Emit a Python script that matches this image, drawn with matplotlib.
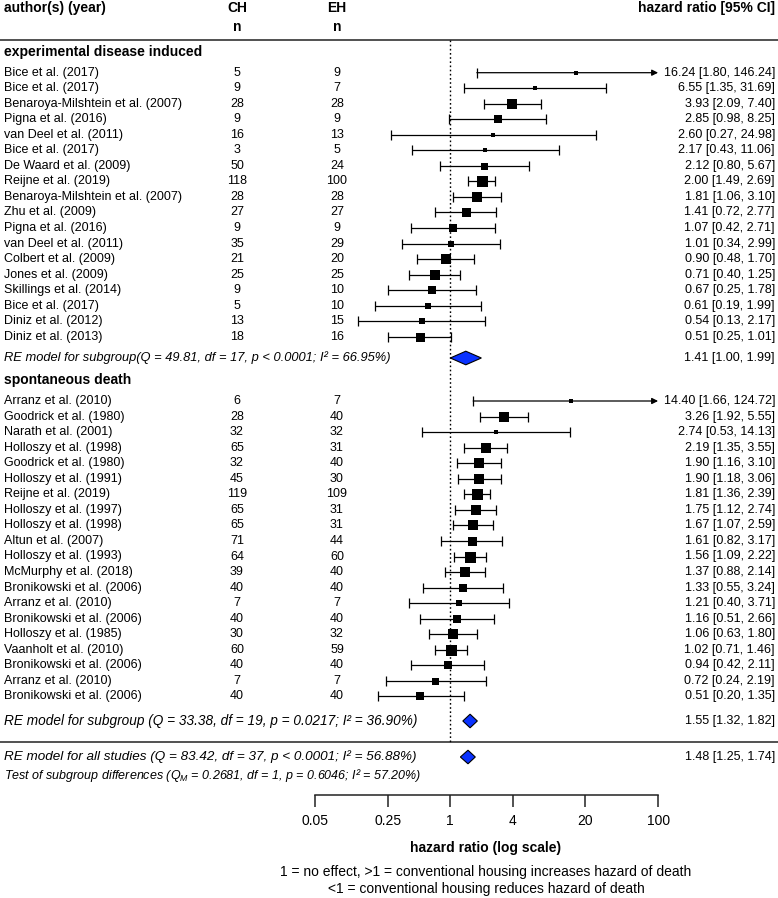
import numpy as np
import matplotlib
matplotlib.use("Agg")
import matplotlib.pyplot as plt

plt.rcParams["font.family"] = ["Liberation Sans", "DejaVu Sans"]
plt.rcParams["mathtext.fontset"] = "custom"
plt.rcParams["mathtext.rm"] = "Liberation Sans"
plt.rcParams["mathtext.it"] = "Liberation Sans:italic"

# experimental disease induced
g1_labels = ["Bice et al. (2017)", "Bice et al. (2017)", "Benaroya-Milshtein et al. (2007)",
             "Pigna et al. (2016)", "van Deel et al. (2011)", "Bice et al. (2017)",
             "De Waard et al. (2009)", "Reijne et al. (2019)", "Benaroya-Milshtein et al. (2007)",
             "Zhu et al. (2009)", "Pigna et al. (2016)", "van Deel et al. (2011)",
             "Colbert et al. (2009)", "Jones et al. (2009)", "Skillings et al. (2014)",
             "Bice et al. (2017)", "Diniz et al. (2012)", "Diniz et al. (2013)"]
g1_ch = [5, 9, 28, 9, 16, 3, 50, 118, 28, 27, 9, 35, 21, 25, 9, 5, 13, 18]
g1_eh = [9, 7, 28, 9, 13, 5, 24, 100, 28, 27, 9, 29, 20, 25, 10, 10, 15, 16]
g1_hr = [16.24, 6.55, 3.93, 2.85, 2.60, 2.17, 2.12, 2.00, 1.81, 1.41, 1.07, 1.01,
         0.90, 0.71, 0.67, 0.61, 0.54, 0.51]
g1_lo = [1.80, 1.35, 2.09, 0.98, 0.27, 0.43, 0.80, 1.49, 1.06, 0.72, 0.42, 0.34,
         0.48, 0.40, 0.25, 0.19, 0.13, 0.25]
g1_hi = [146.24, 31.69, 7.40, 8.25, 24.98, 11.06, 5.67, 2.69, 3.10, 2.77, 2.71, 2.99,
         1.70, 1.25, 1.78, 1.99, 2.17, 1.01]
g1_box = [4, 5, 10, 7.5, 4, 5, 7, 11, 10, 9, 8, 6, 10, 10, 7.5, 6.5, 5.5, 9]

# spontaneous death
g2_labels = ["Arranz et al. (2010)", "Goodrick et al. (1980)", "Narath et al. (2001)",
             "Holloszy et al. (1998)", "Goodrick et al. (1980)", "Holloszy et al. (1991)",
             "Reijne et al. (2019)", "Holloszy et al. (1997)", "Holloszy et al. (1998)",
             "Altun et al. (2007)", "Holloszy et al. (1993)", "McMurphy et al. (2018)",
             "Bronikowski et al. (2006)", "Arranz et al. (2010)", "Bronikowski et al. (2006)",
             "Holloszy et al. (1985)", "Vaanholt et al. (2010)", "Bronikowski et al. (2006)",
             "Arranz et al. (2010)", "Bronikowski et al. (2006)"]
g2_ch = [6, 28, 32, 65, 32, 45, 119, 65, 65, 71, 64, 39, 40, 7, 40, 30, 60, 40, 7, 40]
g2_eh = [7, 40, 32, 31, 40, 30, 109, 31, 31, 44, 60, 40, 40, 7, 40, 32, 59, 40, 7, 40]
g2_hr = [14.40, 3.26, 2.74, 2.19, 1.90, 1.90, 1.81, 1.75, 1.67, 1.61, 1.56, 1.37,
         1.33, 1.21, 1.16, 1.06, 1.02, 0.94, 0.72, 0.51]
g2_lo = [1.66, 1.92, 0.53, 1.35, 1.16, 1.18, 1.36, 1.12, 1.07, 0.82, 1.09, 0.88,
         0.55, 0.40, 0.51, 0.63, 0.71, 0.42, 0.24, 0.20]
g2_hi = [124.72, 5.55, 14.13, 3.55, 3.10, 3.06, 2.39, 2.74, 2.59, 3.17, 2.22, 2.14,
         3.24, 3.71, 2.66, 1.80, 1.46, 2.11, 2.19, 1.35]
g2_box = [4, 10, 5, 10, 10, 10, 11, 10, 9.5, 9, 11, 9.5, 7.5, 5.5, 8, 9.5, 11, 8, 7, 7.5]

# pooled estimates: subgroup 1, subgroup 2, all studies
re_hr = [1.41, 1.55, 1.48]
re_lo = [1.00, 1.32, 1.25]
re_hi = [1.99, 1.82, 1.74]
re_labels = ["RE model for subgroup(Q = 49.81, df = 17, p < 0.0001; I\u00b2 = 66.95%)",
             "RE model for subgroup (Q = 33.38, df = 19, p = 0.0217; I\u00b2 = 36.90%)",
             "RE model for all studies (Q = 83.42, df = 37, p < 0.0001; I\u00b2 = 56.88%)"]
test_label = (r"Test of subgroup differences ($Q_M$ = 0.2681, df = 1, p = 0.6046; "
              "I\u00b2 = 57.20%)")

x_ticks = [0.05, 0.25, 1, 4, 20, 100]
tick_labels = ["0.05", "0.25", "1", "4", "20", "100"]

W, H = 778, 898
fig = plt.figure(figsize=(W / 100, H / 100), dpi=100)
ax = fig.add_axes([0, 0, 1, 1])
ax.set_xscale("log")
# pixel layout: x_px = 450.3 + 103.9 * log10(hr)
ax.set_xlim(10 ** (-450.3 / 103.9), 10 ** ((W - 450.3) / 103.9))
ax.set_ylim(H, 0)
ax.patch.set_alpha(0)
for s in ["top", "left", "right"]:
    ax.spines[s].set_visible(False)
ax.set_yticks([])
ax.minorticks_off()

tx = ax.get_yaxis_transform()
fs = 9
x_lab, x_ch, x_eh, x_ann = 4 / W, 237 / W, 337 / W, 775 / W

# header
ax.text(x_lab, 8, "author(s) (year)", transform=tx, fontsize=10, fontweight="bold", va="center")
ax.text(x_ch, 8, "CH", transform=tx, fontsize=10, fontweight="bold", va="center", ha="center")
ax.text(x_eh, 8, "EH", transform=tx, fontsize=10, fontweight="bold", va="center", ha="center")
ax.text(x_ch, 27, "n", transform=tx, fontsize=10, fontweight="bold", va="center", ha="center")
ax.text(x_eh, 27, "n", transform=tx, fontsize=10, fontweight="bold", va="center", ha="center")
ax.text(x_ann, 8, "hazard ratio [95% CI]", transform=tx, fontsize=10, fontweight="bold",
        va="center", ha="right")
ax.axhline(39.5, color="#333333", lw=1.2)
ax.axhline(741.7, color="#333333", lw=1.2)
ax.vlines(1, 40, 741.7, colors="black", lw=1.0, linestyles=(0, (1.2, 1.8)))


def draw_group(y0, step, labels, ch, eh, hr, lo, hi, box):
    for i in range(len(labels)):
        y = y0 + i * step
        ax.text(x_lab, y, labels[i], transform=tx, fontsize=fs, va="center")
        ax.text(x_ch, y, str(ch[i]), transform=tx, fontsize=fs, va="center", ha="center")
        ax.text(x_eh, y, str(eh[i]), transform=tx, fontsize=fs, va="center", ha="center")
        ax.text(x_ann, y, f"{hr[i]:.2f} [{lo[i]:.2f}, {hi[i]:.2f}]", transform=tx,
                fontsize=fs, va="center", ha="right")
        if hi[i] > 100:
            ax.annotate("", xy=(100, y), xytext=(lo[i], y),
                        arrowprops=dict(arrowstyle="-|>", color="black", lw=0.9,
                                        mutation_scale=9, shrinkA=0, shrinkB=0))
            ax.plot([lo[i]], [y], marker="|", ms=6.5, mew=0.9, color="black")
        else:
            ax.hlines(y, lo[i], hi[i], colors="black", lw=0.9)
            ax.plot([lo[i], hi[i]], [y, y], ls="none", marker="|", ms=6.5, mew=0.9,
                    color="black")
        ax.scatter([hr[i]], [y], marker="s", s=(box[i] * 0.72) ** 2, color="black",
                   lw=0, zorder=3)


ax.text(x_lab, 51.7, "experimental disease induced", transform=tx, fontsize=10,
        fontweight="bold", va="center")
draw_group(72.7, 15.53, g1_labels, g1_ch, g1_eh, g1_hr, g1_lo, g1_hi, g1_box)
ax.text(x_lab, 380, "spontaneous death", transform=tx, fontsize=10,
        fontweight="bold", va="center")
draw_group(401, 15.55, g2_labels, g2_ch, g2_eh, g2_hr, g2_lo, g2_hi, g2_box)

re_y = [358, 721, 757]
re_fs = [9.3, 9.8, 9.7]
for i in range(3):
    y = re_y[i]
    h = 6.8
    ax.fill([re_lo[i], re_hr[i], re_hi[i], re_hr[i]], [y, y - h, y, y + h],
            facecolor="#0a32ff", edgecolor="black", lw=0.8, zorder=3)
    ax.text(x_lab, y, re_labels[i], transform=tx, fontsize=re_fs[i], va="center",
            style="italic")
    ax.text(x_ann, y, f"{re_hr[i]:.2f} [{re_lo[i]:.2f}, {re_hi[i]:.2f}]", transform=tx,
            fontsize=fs, va="center", ha="right")
ax.text(x_lab, 775, test_label, transform=tx, fontsize=fs, va="center", style="italic")

# bottom axis
ax.spines["bottom"].set_position(("data", 795))
ax.spines["bottom"].set_bounds(0.05, 100)
ax.spines["bottom"].set_linewidth(1.1)
ax.spines["bottom"].set_color("#222222")
ax.set_xticks(x_ticks)
ax.set_xticklabels(tick_labels)
ax.tick_params(axis="x", which="major", direction="out", length=8.5, width=1.1,
               color="#222222", labelsize=10, pad=5)
ax.tick_params(axis="x", which="minor", length=0)

ax.text(486 / W, 848, "hazard ratio (log scale)", transform=tx, fontsize=10,
        fontweight="bold", va="center", ha="center")
ax.text(486 / W, 872, "1 = no effect, >1 = conventional housing increases hazard of death",
        transform=tx, fontsize=10, va="center", ha="center")
ax.text(486 / W, 889, "<1 = conventional housing reduces hazard of death",
        transform=tx, fontsize=10, va="center", ha="center")

fig.savefig("out.png", dpi=100, facecolor="white")
